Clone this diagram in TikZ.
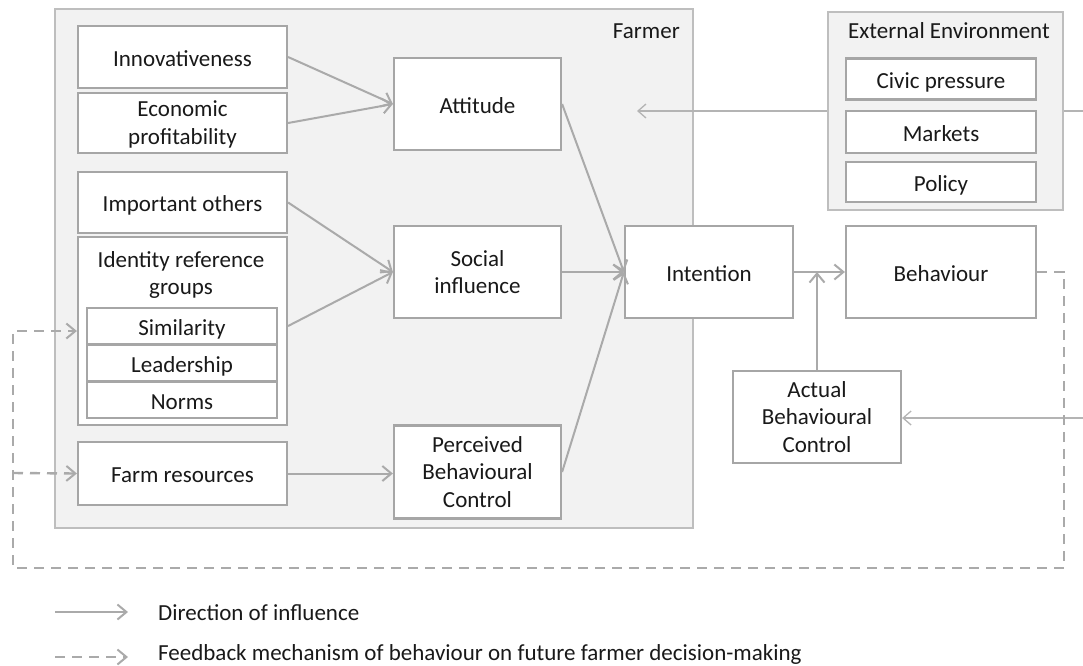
\documentclass[tikz,border=0pt]{standalone}
\usepackage{fontspec}
\setmainfont{Carlito}
\usetikzlibrary{arrows.meta}
\definecolor{bord}{RGB}{166,166,166}
\definecolor{arr}{RGB}{170,170,170}
\definecolor{thin}{RGB}{180,180,180}
\definecolor{panel}{RGB}{242,242,242}
\definecolor{panelb}{RGB}{190,190,190}
\definecolor{txt}{RGB}{25,25,25}
\tikzset{
  box/.style={draw=bord, line width=2.2pt, fill=white, text=txt, align=center, inner sep=0pt, font=\fontsize{23}{27.5}\selectfont},
  one/.style={text height=21pt, text depth=3pt},
  lbl/.style={text=txt, inner sep=0pt, font=\fontsize{23}{27.5}\selectfont},
  infl/.style={draw=arr, line width=2pt, -{Straight Barb[length=9pt,width=15pt,line width=2pt]}},
  fb/.style={draw=arr, line width=2.4pt, dash pattern=on 10pt off 7pt, -{Straight Barb[length=9pt,width=15pt,line width=2pt]}},
  ext/.style={draw=thin, line width=1.3pt, -{Straight Barb[length=8pt,width=14pt,line width=1.3pt]}},
  panelbox/.style={draw=panelb, line width=1.4pt, fill=panel}
}
\begin{document}
\begin{tikzpicture}[x=1pt,y=-1pt]
\useasboundingbox (0,0) rectangle (1083,665);
% Farmer panel
\draw[panelbox] (55,9) rectangle (693,528);
\node[lbl, anchor=east] (farmer) at (680,31) {Farmer};
% external influence lines
\coordinate (eA) at (1083,111);
\coordinate (eAt) at (637,111);
\draw[ext] (eA) -- (eAt);
% External Environment panel
\draw[panelbox] (828,12) rectangle (1063,210);
\node[lbl] (extlbl) at (949,31) {External Environment};
\node[box, one, minimum width=190, minimum height=41] (civ) at (941,79) {Civic pressure};
\node[box, one, minimum width=190, minimum height=42] (mar) at (941,132) {Markets};
\node[box, one, minimum width=190, minimum height=40] (pol) at (941,182) {Policy};
% left column
\node[box, one, minimum width=209, minimum height=62] (inn) at (182.5,57) {Innovativeness};
\node[box, minimum width=209, minimum height=60] (eco) at (182.5,123) {\rule{0pt}{19pt}Economic\\profitability};
\node[box, one, minimum width=209, minimum height=61] (imp) at (182.5,202.5) {Important others};
\node[box, minimum width=209, minimum height=188] (idg) at (182.5,331) {};
\node[lbl, align=center] (idgl) at (181,275) {Identity reference\\groups};
\node[box, one, minimum width=190, minimum height=36] (sim) at (182,326) {Similarity};
\node[box, one, minimum width=190, minimum height=36] (lea) at (182,363) {Leadership};
\node[box, one, minimum width=190, minimum height=36] (nor) at (182,400) {Norms};
\node[box, one, minimum width=209, minimum height=63] (far) at (182.5,473.5) {Farm resources};
% middle column
\node[box, one, minimum width=167, minimum height=92] (att) at (477.5,104) {Attitude};
\node[box, minimum width=167, minimum height=92] (soc) at (477.5,272) {Social\\influence};
\node[box, minimum width=167, minimum height=93] (pbc) at (477.5,472) {Perceived\\Behavioural\\Control};
% right
\node[box, one, minimum width=168, minimum height=92] (int) at (709,272) {Intention};
\node[box, one, minimum width=190, minimum height=92] (beh) at (941,272) {Behaviour};
\node[box, minimum width=168, minimum height=92] (abc) at (817,417) {Actual\\Behavioural\\Control};
% line to actual behavioural control
\coordinate (eB) at (1083,418);
\draw[ext] (eB) -- (abc.east |- eB);
% influence arrows
\draw[infl] (inn.east) -- (att.west);
\draw[infl] (eco.east) -- (att.west);
\draw[infl] (imp.east) -- (soc.west);
\draw[infl] (idg.east |- sim.east) -- (soc.west);
\draw[infl] (far.east) -- (pbc.west |- far.east);
\draw[infl] (att.east) -- (int.west);
\draw[infl] (soc.east) -- (int.west);
\draw[infl] (pbc.east) -- (int.west);
\draw[infl] (int.east) -- (beh.west);
\coordinate (abcT) at (abc.north |- int.east);
\draw[infl] (abc.north) -- (abcT);
% feedback
\coordinate (f1) at (1064,272);
\coordinate (f2) at (1064,568);
\coordinate (f3) at (13,568);
\coordinate (f4) at (13,331);
\coordinate (f5) at (13,473);
\draw[fb] (beh.east) -- (f1) -- (f2) -- (f3) -- (f4) -- (idg.west |- f4);
\draw[fb] (f5) -- (far.west);
% legend
\coordinate (l1a) at (55,612);
\coordinate (l1b) at (128,612);
\coordinate (l2a) at (55,657);
\coordinate (l2b) at (128,657);
\draw[infl] (l1a) -- (l1b);
\draw[fb] (l2a) -- (l2b);
\node[lbl, anchor=west] (leg1) at (158,613) {Direction of influence};
\node[lbl, anchor=west] (leg2) at (158,654) {Feedback mechanism of behaviour on future farmer decision-making};
\end{tikzpicture}
\end{document}
